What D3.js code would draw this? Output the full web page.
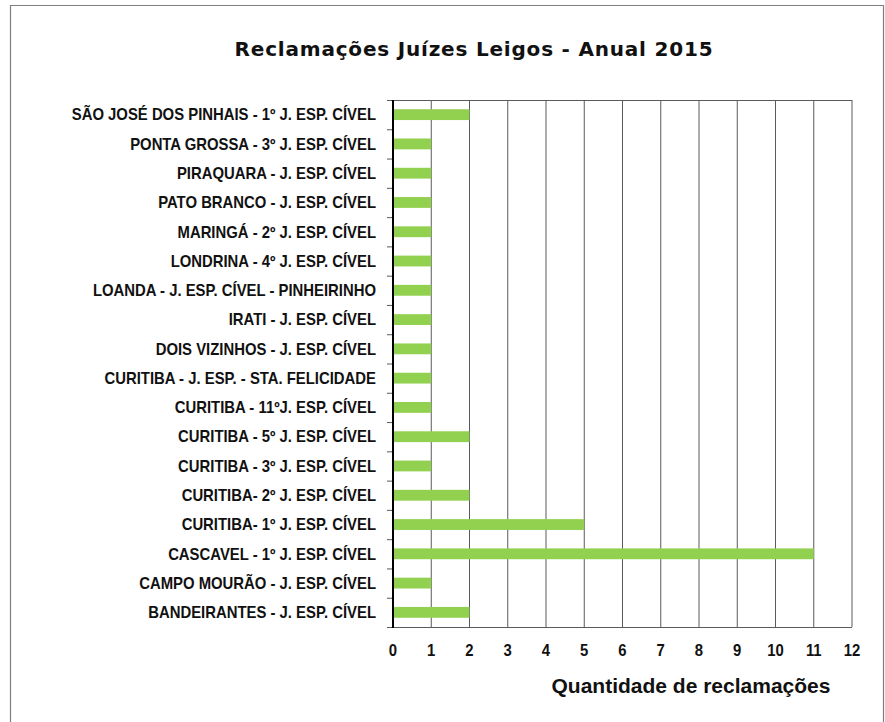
<!DOCTYPE html>
<html>
<head>
<meta charset="utf-8">
<script src="https://cdn.jsdelivr.net/npm/d3@7"></script>
<style>
  html, body { margin: 0; padding: 0; background: #fff; }
  svg { display: block; }
</style>
</head>
<body>
<svg id="chart" width="885" height="722"></svg>
<script>
// Courts, listed top to bottom
const categories = [
  "SÃO JOSÉ DOS PINHAIS - 1º J. ESP. CÍVEL",
  "PONTA GROSSA - 3º J. ESP. CÍVEL",
  "PIRAQUARA - J. ESP. CÍVEL",
  "PATO BRANCO - J. ESP. CÍVEL",
  "MARINGÁ - 2º J. ESP. CÍVEL",
  "LONDRINA - 4º J. ESP. CÍVEL",
  "LOANDA - J. ESP. CÍVEL - PINHEIRINHO",
  "IRATI - J. ESP. CÍVEL",
  "DOIS VIZINHOS - J. ESP. CÍVEL",
  "CURITIBA - J. ESP. - STA. FELICIDADE",
  "CURITIBA - 11ºJ. ESP. CÍVEL",
  "CURITIBA - 5º J. ESP. CÍVEL",
  "CURITIBA - 3º J. ESP. CÍVEL",
  "CURITIBA- 2º J. ESP. CÍVEL",
  "CURITIBA- 1º J. ESP. CÍVEL",
  "CASCAVEL - 1º J. ESP. CÍVEL",
  "CAMPO MOURÃO - J. ESP. CÍVEL",
  "BANDEIRANTES - J. ESP. CÍVEL"
];
// Complaints per court
const values = [2, 1, 1, 1, 1, 1, 1, 1, 1, 1, 1, 2, 1, 2, 5, 11, 1, 2];
const xTicks = [0, 1, 2, 3, 4, 5, 6, 7, 8, 9, 10, 11, 12];

const chartTitle = "Reclamações Juízes Leigos - Anual 2015";
const xTitle = "Quantidade de reclamações";

const svg = d3.select("#chart");
const W = 885, H = 722;
const plot = { left: 393, right: 852, top: 100, bottom: 627 };

const sans = "'Liberation Sans', Arial, sans-serif";
const squeeze = 0.93; // condensed look for the axis texts

// Outer frame
svg.append("path")
  .attr("d", `M10.5,${H} V5.5 H883.5 V${H}`)
  .attr("fill", "none").attr("stroke", "#7f7f7f").attr("stroke-width", 1.2);

const x = d3.scaleLinear().domain([0, 12]).range([plot.left, plot.right]);
const y = d3.scaleBand().domain(categories).range([plot.top, plot.bottom]).paddingInner(0.63).paddingOuter(0.315);
const yb = d3.scaleBand().domain(categories).range([plot.top, plot.bottom]);

// Vertical gridlines
svg.append("g").selectAll("line")
  .data(xTicks.slice(1))
  .join("line")
  .attr("x1", d => x(d)).attr("x2", d => x(d))
  .attr("y1", plot.top).attr("y2", plot.bottom)
  .attr("stroke", "#5a5a5a").attr("stroke-width", 1);

// Top border of plot area
svg.append("line")
  .attr("x1", plot.left).attr("x2", plot.right)
  .attr("y1", plot.top + 0.5).attr("y2", plot.top + 0.5)
  .attr("stroke", "#5a5a5a");

// Bars
svg.append("g").selectAll("rect")
  .data(categories.map((c, i) => ({ c, v: values[i] })))
  .join("rect")
  .attr("x", x(0))
  .attr("y", d => y(d.c))
  .attr("width", d => x(d.v) - x(0))
  .attr("height", y.bandwidth())
  .attr("fill", "#92d050");

// Bottom axis line
svg.append("line")
  .attr("x1", plot.left - 6).attr("x2", plot.right)
  .attr("y1", plot.bottom + 0.5).attr("y2", plot.bottom + 0.5)
  .attr("stroke", "#5a5a5a");

// Category boundary ticks on the value axis
svg.append("g").selectAll("line")
  .data(categories)
  .join("line")
  .attr("x1", plot.left - 6).attr("x2", plot.left)
  .attr("y1", d => yb(d) + 0.5).attr("y2", d => yb(d) + 0.5)
  .attr("stroke", "#5a5a5a");

// Category axis line
svg.append("line")
  .attr("x1", plot.left).attr("x2", plot.left)
  .attr("y1", plot.top).attr("y2", plot.bottom + 1)
  .attr("stroke", "#000").attr("stroke-width", 2);

// Category labels
svg.append("g").selectAll("text")
  .data(categories)
  .join("text")
  .attr("transform", d => `translate(376,${yb(d) + yb.bandwidth() / 2}) scale(${squeeze},1)`)
  .attr("dy", "0.36em")
  .attr("text-anchor", "end")
  .attr("font-family", sans)
  .attr("font-weight", "bold")
  .attr("font-size", 16)
  .attr("fill", "#111")
  .text(d => d);

// Value tick labels
svg.append("g").selectAll("text")
  .data(xTicks)
  .join("text")
  .attr("transform", d => `translate(${x(d)},656) scale(${squeeze},1)`)
  .attr("text-anchor", "middle")
  .attr("font-family", sans)
  .attr("font-weight", "bold")
  .attr("font-size", 16)
  .attr("fill", "#111")
  .text(d => d);

// Chart title
svg.append("text")
  .attr("x", 474).attr("y", 56)
  .attr("text-anchor", "middle")
  .attr("font-family", "'DejaVu Sans', sans-serif")
  .attr("font-weight", "bold")
  .attr("font-size", 20)
  .attr("letter-spacing", 0.8)
  .attr("fill", "#111")
  .text(chartTitle);

// Value axis title
svg.append("text")
  .attr("x", 691).attr("y", 693)
  .attr("text-anchor", "middle")
  .attr("font-family", sans)
  .attr("font-weight", "bold")
  .attr("font-size", 21)
  .attr("fill", "#111")
  .text(xTitle);
</script>
</body>
</html>
